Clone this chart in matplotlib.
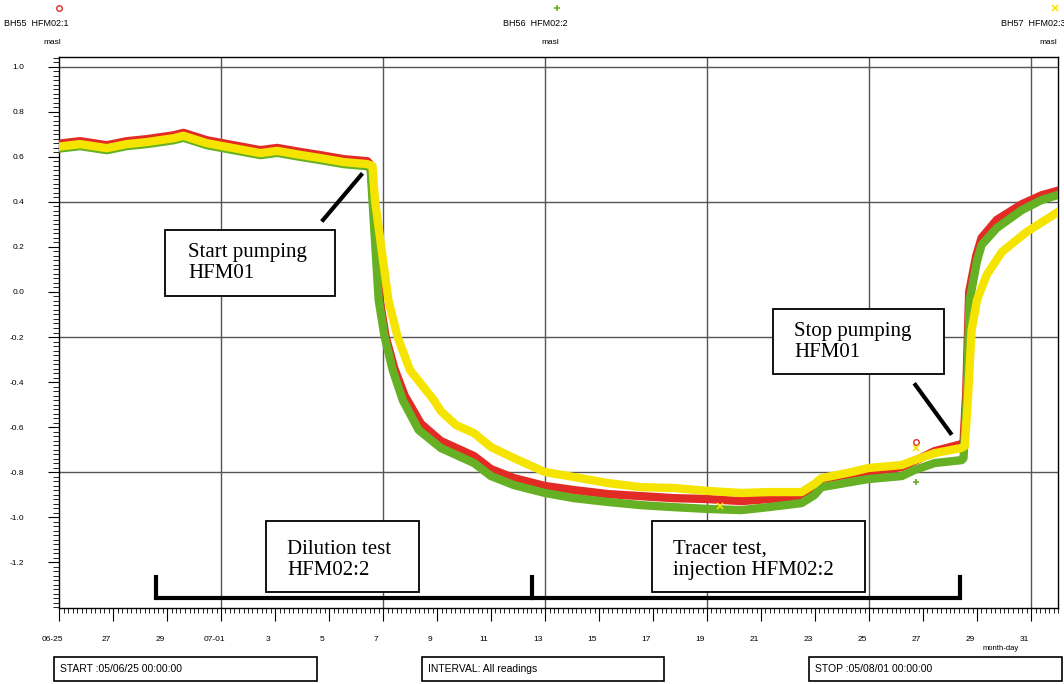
import numpy as np
import matplotlib.pyplot as plt
from matplotlib.patches import Rectangle
from matplotlib.lines import Line2D
from matplotlib.ticker import MultipleLocator
import matplotlib.transforms as mtransforms

plt.rcParams['font.family'] = ['Liberation Sans', 'DejaVu Sans']

# time axis: days after 05/06/25 00:00
red_day = [0.00, 0.78, 1.77, 2.51, 3.25, 4.24, 4.61, 5.48, 6.47, 7.46, 8.08, 8.94, 9.68, 10.55, 11.42,
           11.54, 11.63, 11.87, 12.10, 12.42, 12.80, 13.40, 14.14, 15.37, 16.00, 16.85, 18.00, 19.07,
           20.33, 21.56, 22.78, 24.04, 25.27, 26.27, 27.50, 27.98, 28.24, 29.35, 29.98, 31.21, 31.69,
           32.43, 33.43, 33.50, 33.60, 33.71, 33.97, 34.17, 34.73, 35.66, 36.40, 37.00]
red_masl = [0.659, 0.670, 0.652, 0.670, 0.679, 0.696, 0.707, 0.674, 0.652, 0.630, 0.640, 0.622, 0.608, 0.590, 0.581,
            0.565, 0.420, -0.030, -0.200, -0.340, -0.460, -0.585, -0.662, -0.729, -0.787, -0.827, -0.862, -0.880,
            -0.898, -0.907, -0.916, -0.920, -0.929, -0.920, -0.911, -0.880, -0.831, -0.809, -0.800, -0.778, -0.751,
            -0.707, -0.676, -0.670, -0.450, 0.000, 0.160, 0.240, 0.320, 0.390, 0.430, 0.450]

green_day = [0.00, 0.78, 1.77, 2.51, 3.25, 4.24, 4.61, 5.48, 6.47, 7.46, 8.08, 8.94, 9.68, 10.55, 11.42,
             11.54, 11.61, 11.84, 12.06, 12.36, 12.73, 13.32, 14.14, 15.37, 16.00, 16.85, 18.00, 19.07,
             20.33, 21.56, 22.78, 24.04, 25.27, 26.27, 27.50, 27.98, 28.24, 29.35, 29.98, 31.21, 31.69,
             32.43, 33.43, 33.50, 33.62, 33.73, 33.99, 34.17, 34.73, 35.66, 36.40, 37.00]
green_masl = [0.637, 0.648, 0.630, 0.648, 0.657, 0.674, 0.685, 0.652, 0.630, 0.608, 0.618, 0.600, 0.586, 0.568, 0.559,
              0.551, 0.409, -0.036, -0.200, -0.347, -0.480, -0.613, -0.693, -0.760, -0.818, -0.858, -0.893, -0.916,
              -0.933, -0.947, -0.956, -0.964, -0.969, -0.956, -0.938, -0.902, -0.867, -0.844, -0.831, -0.818, -0.791,
              -0.760, -0.747, -0.738, -0.480, -0.036, 0.133, 0.209, 0.284, 0.364, 0.409, 0.431]

yellow_day = [0.00, 0.78, 1.77, 2.51, 3.25, 4.24, 4.61, 5.48, 6.47, 7.46, 8.08, 8.94, 9.68, 10.55, 11.42,
              11.61, 11.70, 12.20, 12.54, 13.00, 13.88, 14.14, 14.70, 15.37, 16.00, 16.85, 18.00, 19.07,
              20.33, 21.56, 22.78, 24.04, 25.27, 26.27, 27.50, 27.98, 28.24, 29.35, 29.98, 31.21, 31.69,
              32.43, 33.43, 33.55, 33.66, 33.80, 34.00, 34.36, 34.92, 35.84, 36.77, 37.00]
yellow_masl = [0.646, 0.657, 0.639, 0.657, 0.666, 0.683, 0.694, 0.661, 0.639, 0.617, 0.627, 0.609, 0.595, 0.577, 0.568,
               0.560, 0.409, -0.036, -0.200, -0.347, -0.480, -0.529, -0.591, -0.627, -0.689, -0.738, -0.800, -0.822,
               -0.849, -0.867, -0.871, -0.884, -0.893, -0.889, -0.889, -0.853, -0.827, -0.800, -0.782, -0.769, -0.747,
               -0.716, -0.693, -0.684, -0.480, -0.169, -0.036, 0.076, 0.178, 0.267, 0.338, 0.356]

# stray single readings
red_odd_day, red_odd_masl = [31.74], [-0.668]
green_odd_day, green_odd_masl = [31.74], [-0.844]
yellow_odd_day, yellow_odd_masl = [31.74, 24.49], [-0.692, -0.951]

tick_days = list(range(0, 37, 2))
tick_labels = ['06-25', '27', '29', '07-01', '3', '5', '7', '9', '11', '13', '15',
               '17', '19', '21', '23', '25', '27', '29', '31']
y_ticks = [-1.2, -1.0, -0.8, -0.6, -0.4, -0.2, 0.0, 0.2, 0.4, 0.6, 0.8, 1.0]
y_labels = ['-1.2', '-1.0', '-0.8', '-0.6', '-0.4', '-0.2', '0.0', '0.2', '0.4', '0.6', '0.8', '1.0']
grid_days = [6, 12, 18, 24, 30, 36]
grid_levels = [1.0, 0.4, -0.2, -0.8]

RED, GREEN, YELLOW = '#e32b25', '#66b023', '#f5e400'

W, H = 1064, 684
fig = plt.figure(figsize=(W / 100, H / 100), dpi=100)
ax = fig.add_axes([59 / W, 1 - 608 / H, (1058 - 59) / W, (608 - 57) / H])


def fp(x, y):
    return x / W, 1 - y / H


ax.set_xlim(0, 37)
ax.set_ylim(-1.404, 1.044)

for d in grid_days:
    ax.axvline(d, color='#555555', lw=1.0, zorder=1)
for v in grid_levels:
    ax.axhline(v, color='#555555', lw=1.0, zorder=1)

ax.plot(red_day, red_masl, color=RED, lw=6, zorder=3, solid_joinstyle='round')
ax.plot(green_day, green_masl, color=GREEN, lw=6, zorder=4, solid_joinstyle='round')
ax.plot(yellow_day, yellow_masl, color=YELLOW, lw=6, zorder=5, solid_joinstyle='round')
ax.plot(red_odd_day, red_odd_masl, 'o', mfc='none', mec=RED, ms=4, mew=1, zorder=6)
ax.plot(green_odd_day, green_odd_masl, '+', color=GREEN, ms=5, mew=1.2, zorder=6)
ax.plot(yellow_odd_day, yellow_odd_masl, 'x', color=YELLOW, ms=4, mew=1.2, zorder=6)

# ticks
ax.set_xticks(tick_days)
ax.set_xticklabels(tick_labels)
ax.xaxis.set_minor_locator(MultipleLocator(1 / 6))
ax.set_yticks(y_ticks)
ax.set_yticklabels(y_labels)
ax.yaxis.set_minor_locator(MultipleLocator(0.02))
ax.tick_params(axis='x', which='major', length=9, width=0.8, pad=11, labelsize=6)
ax.tick_params(axis='x', which='minor', length=3.5, width=0.6)
ax.tick_params(axis='y', which='major', length=8, width=0.8, pad=17, labelsize=6)
ax.tick_params(axis='y', which='minor', length=4.3, width=0.6)
shift = mtransforms.ScaledTranslation(-7 / 100, 0, fig.dpi_scale_trans)
for lbl in ax.get_xticklabels():
    lbl.set_transform(lbl.get_transform() + shift)
for s in ax.spines.values():
    s.set_linewidth(1.0)

# annotation boxes
serif = ['Liberation Serif', 'DejaVu Serif']
boxes = [
    ((3.93, -0.018), 6.31, 0.294, (4.79, 0.129), 'Start pumping\nHFM01'),
    ((26.46, -0.364), 6.30, 0.288, (27.24, -0.222), 'Stop pumping\nHFM01'),
    ((7.68, -1.333), 5.64, 0.315, (8.46, -1.191), 'Dilution test\nHFM02:2'),
    ((21.97, -1.333), 7.90, 0.315, (22.75, -1.191), 'Tracer test,\ninjection HFM02:2'),
]
for xy, w, h, txy, txt in boxes:
    ax.add_patch(Rectangle(xy, w, h, facecolor='white', edgecolor='black', lw=1.3, zorder=7))
    ax.text(txy[0], txy[1], txt, family=serif, fontsize=15, ha='left', va='center',
            linespacing=1.15, zorder=8)

ax.plot([9.78, 11.19], [0.32, 0.52], color='black', lw=3, zorder=8)
ax.plot([31.72, 33.02], [-0.413, -0.627], color='black', lw=3, zorder=8)

# test period bracket
ax.plot([3.6, 3.6, 33.36, 33.36], [-1.267, -1.36, -1.36, -1.267], color='black', lw=3,
        solid_joinstyle='miter', zorder=8)
ax.plot([17.5, 17.5], [-1.267, -1.36], color='black', lw=3, zorder=8)

# header
heads = [(59, 36, 52, 'o', RED, 'BH55  HFM02:1'),
         (557, 535, 550, '+', GREEN, 'BH56  HFM02:2'),
         (1055, 1033, 1048, 'x', YELLOW, 'BH57  HFM02:3')]
for mx, tx, ux, mk, col, txt in heads:
    x0, y0 = fp(mx, 8)
    if mk == 'o':
        fig.add_artist(Line2D([x0], [y0], marker='o', mfc='none', mec=col, ms=4, mew=1))
    else:
        fig.add_artist(Line2D([x0], [y0], marker=mk, color=col, ms=5, mew=1.2))
    fig.text(*fp(tx, 24), txt, fontsize=6.5, ha='center', va='center')
    fig.text(*fp(ux, 43), 'masl', fontsize=6, ha='center', va='center')

fig.text(*fp(1001, 649), 'month-day', fontsize=5.5, ha='center', va='center')

# footer boxes
for x0, x1, txt in [(54, 317, 'START :05/06/25 00:00:00'),
                    (422, 664, 'INTERVAL: All readings'),
                    (809, 1062, 'STOP :05/08/01 00:00:00')]:
    fx, fy = fp(x0, 681)
    fig.add_artist(Rectangle((fx, fy), (x1 - x0) / W, 24 / H, transform=fig.transFigure,
                             fill=False, edgecolor='black', lw=1.2))
    fig.text(*fp(x0 + 6, 669), txt, fontsize=7.5, ha='left', va='center')

fig.savefig('out.png', dpi=100)
